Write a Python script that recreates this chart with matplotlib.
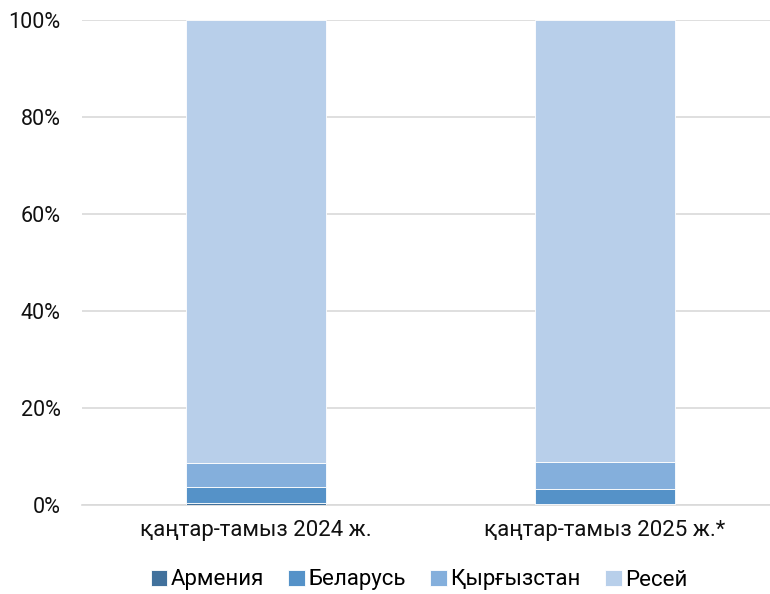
import matplotlib
matplotlib.use("Agg")
import matplotlib.pyplot as plt
from matplotlib.ticker import PercentFormatter

plt.rcParams['font.family'] = ['Roboto', 'DejaVu Sans']

# shares of imports, %
periods = ["қаңтар-тамыз 2024 ж.", "қаңтар-тамыз 2025 ж.*"]
countries = ["Армения", "Беларусь", "Қырғызстан", "Ресей"]
armenia = [0.4, 0.15]
belarus = [3.3, 3.05]
kyrgyzstan = [5.0, 5.6]
russia = [91.3, 91.2]
colors = ["#41719C", "#5592C8", "#84AFDC", "#B8CFEA"]

fig = plt.figure(figsize=(7.7, 5.94), dpi=100)
ax = fig.add_axes([81.5 / 770, 1 - 505 / 594, (770 - 81.5) / 770, 485 / 594])

x = list(range(len(periods)))
bottom = [0.0, 0.0]
for name, vals, col in zip(countries, [armenia, belarus, kyrgyzstan, russia], colors):
    ax.bar(x, vals, width=0.4, bottom=bottom, color=col, label=name,
           edgecolor="white", linewidth=0.6, zorder=3)
    bottom = [b + v for b, v in zip(bottom, vals)]

ax.set_ylim(0, 100)
ax.set_xlim(-0.5, 1.5 - 9.5 / 349)
ax.set_yticks([0, 20, 40, 60, 80, 100])
ax.yaxis.set_major_formatter(PercentFormatter(decimals=0))
ax.grid(axis="y", color="#D9D9D9", linewidth=1.2, zorder=0)
ax.set_xticks(x)
ax.set_xticklabels(periods)
for s in ["top", "right", "left"]:
    ax.spines[s].set_visible(False)
ax.spines["bottom"].set_color("#D9D9D9")
ax.spines["bottom"].set_linewidth(1.2)
ax.tick_params(axis="x", length=0, labelsize=16, labelcolor="#111111", pad=11)
ax.tick_params(axis="y", length=0, labelsize=15.5, labelcolor="#111111", pad=15)

ax.legend(loc="center", bbox_to_anchor=(419 / 770, 1 - 580 / 594),
          bbox_transform=fig.transFigure, ncol=4, frameon=False,
          fontsize=16, handlelength=0.75, handleheight=0.75,
          handletextpad=0.15, columnspacing=1.1)

fig.savefig("out.png", dpi=100)
